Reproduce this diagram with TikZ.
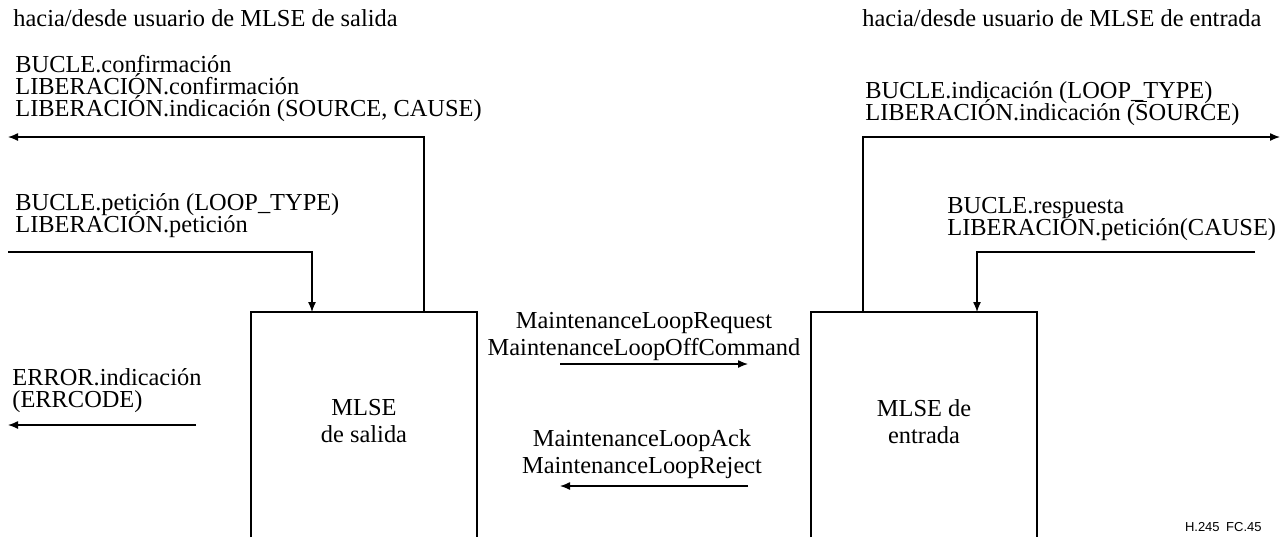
\documentclass[tikz,border=0pt]{standalone}
\usepackage{fontspec}
\setmainfont{Liberation Serif}
\newfontfamily\figfont{Liberation Sans}
\usetikzlibrary{arrows.meta}

\newcommand\tightlines{\lineskiplimit=-20pt\relax}
\tikzset{
  wire/.style={line width=0.65pt},
  sig/.style={line width=0.65pt, -{Latex[length=5pt,width=4pt]}},
  lbl/.style={inner sep=0pt, align=left, anchor=base west,
    font=\fontsize{12.2}{11}\selectfont\tightlines},
  mlbl/.style={inner sep=0pt, align=center, anchor=base,
    font=\fontsize{12.2}{13.5}\selectfont\tightlines},
}

\begin{document}
\begin{tikzpicture}[x=0.5pt,y=-0.5pt]
  \useasboundingbox (0,0) rectangle (1281,537);
  % MLSE boxes, open at the bottom
  \coordinate (LSW) at (251,537); \coordinate (LNW) at (251,312);
  \coordinate (LNE) at (477,312); \coordinate (LSE) at (477,537);
  \coordinate (RSW) at (811,537); \coordinate (RNW) at (811,312);
  \coordinate (RNE) at (1037,312); \coordinate (RSE) at (1037,537);
  \draw [wire] (LSW) -- (LNW) -- (LNE) -- (LSE);
  \draw [wire] (RSW) -- (RNW) -- (RNE) -- (RSE);
  % (base of a two-line label = baseline of its last line)
  \node [mlbl] (Lbox) at (364,442) {MLSE\\de salida};
  \node [mlbl] (Rbox) at (924,443) {MLSE de\\entrada};
  % headers
  \node [lbl] (Lhead) at (13,26) {hacia/desde usuario de MLSE de salida};
  \node [lbl] (Rhead) at (862,26) {hacia/desde usuario de MLSE de entrada};
  % left user side
  \coordinate (Lup) at (424,312); \coordinate (Lconf) at (8,137);
  \coordinate (Lreq) at (8,252); \coordinate (LreqT) at (312,312);
  \coordinate (Lerr) at (196,425); \coordinate (LerrE) at (8,425);
  \node [lbl] (Lt1) at (15,116) {BUCLE.confirmación\\LIBERACIÓN.confirmación\\LIBERACIÓN.indicación (SOURCE, CAUSE)};
  \node [lbl] (Lt2) at (15,232) {BUCLE.petición (LOOP\_TYPE)\\LIBERACIÓN.petición};
  \node [lbl] (Lt3) at (12,407) {ERROR.indicación\\(ERRCODE)};
  \draw [sig] (Lup) |- (Lconf);
  \draw [sig] (Lreq) -| (LreqT);
  \draw [sig] (Lerr) -- (LerrE);
  % right user side
  \coordinate (Rup) at (863,312); \coordinate (Rind) at (1280,137);
  \coordinate (Rresp) at (1255,252); \coordinate (RrespT) at (977,312);
  \node [lbl] (Rt1) at (865,120) {BUCLE.indicación (LOOP\_TYPE)\\LIBERACIÓN.indicación (\rlap{\rule[0.72em]{0.5em}{0.05em}}SOURCE)};
  \node [lbl] (Rt2) at (947,235) {BUCLE.respuesta\\LIBERACIÓN.petición(CAUSE)};
  \draw [sig] (Rup) |- (Rind);
  \draw [sig] (Rresp) -| (RrespT);
  % messages between the two MLSE
  \coordinate (Mreq) at (560,364); \coordinate (MreqE) at (748,364);
  \coordinate (Mack) at (748,486); \coordinate (MackE) at (560,486);
  \node [mlbl] (Mt1) at (644,355) {MaintenanceLoopRequest\\MaintenanceLoopOffCommand};
  \node [mlbl] (Mt2) at (642,473) {MaintenanceLoopAck\\MaintenanceLoopReject};
  \draw [sig] (Mreq) -- (MreqE);
  \draw [sig] (Mack) -- (MackE);
  \node [inner sep=0pt, anchor=base east, font=\figfont\fontsize{6.5}{7}\selectfont] (tag) at (1262,531) {H.245\enspace FC.45};
\end{tikzpicture}
\end{document}
